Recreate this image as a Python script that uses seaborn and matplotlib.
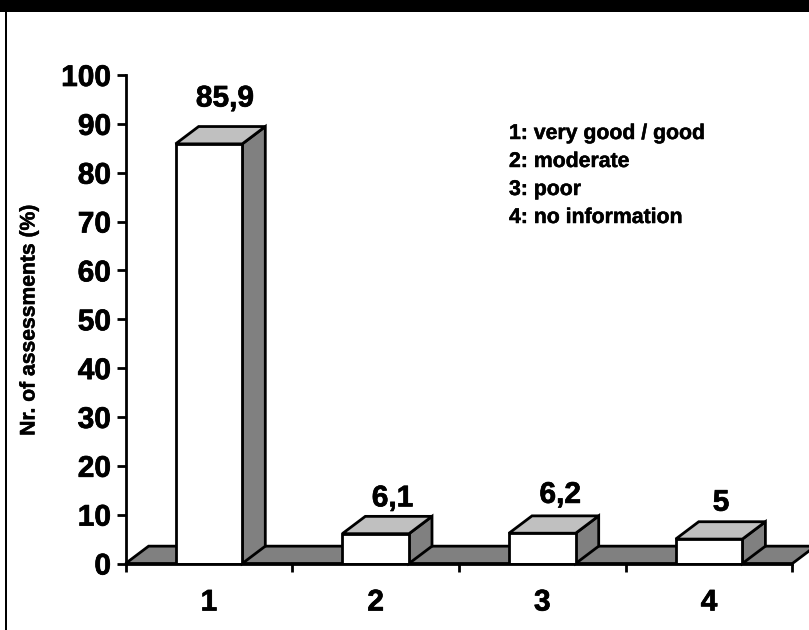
import matplotlib
matplotlib.use('Agg')
import matplotlib.pyplot as plt
import matplotlib.patheffects as pe
from matplotlib.patches import Polygon, Rectangle
import pandas as pd
import seaborn as sns

categories = ['1', '2', '3', '4']
values = [85.9, 6.1, 6.2, 5]
y_ticks = [0, 10, 20, 30, 40, 50, 60, 70, 80, 90, 100]
key_lines = ['1: very good / good', '2: moderate', '3: poor', '4: no information']

W, H = 809, 630
dpi = 100
bar_w = 0.4
dx, dy = 0.138, 3.55  # fake 3d depth in data units
lw = 2.0
dark = '#808080'
light = '#c0c0c0'
heavy = [pe.withStroke(linewidth=0.5, foreground='black')]
heavy_small = [pe.withStroke(linewidth=0.35, foreground='black')]

sns.set_theme(style='white')
plt.rcParams['font.family'] = ['Liberation Sans']
plt.rcParams['font.weight'] = 'bold'

fig = plt.figure(figsize=(W / dpi, H / dpi), dpi=dpi, facecolor='white')
ax = fig.add_axes([125.6 / W, 1 - 563.5 / H, 666.8 / W, 488.5 / H])

df = pd.DataFrame({'cat': categories, 'val': values})
sns.barplot(data=df, x='cat', y='val', ax=ax, color='white', saturation=1,
            width=bar_w, edgecolor='black', linewidth=lw, zorder=3)

ax.set_xlim(-0.5, len(categories) - 0.5)
ax.set_ylim(0, 100)

# floor
x0, x1 = ax.get_xlim()
ax.add_patch(Polygon([(x0, 0), (x1, 0), (x1 + dx, dy), (x0 + dx, dy)], closed=True,
                     facecolor=dark, edgecolor='black', lw=lw, zorder=1, clip_on=False))

# sides and tops of the bars
for i, v in enumerate(values):
    l, r = i - bar_w / 2, i + bar_w / 2
    ax.add_patch(Polygon([(r, 0), (r + dx, dy), (r + dx, v + dy), (r, v)], closed=True,
                         facecolor=dark, edgecolor='black', lw=lw, zorder=2, clip_on=False,
                         joinstyle='miter'))
    ax.add_patch(Polygon([(l, v), (r, v), (r + dx, v + dy), (l + dx, v + dy)], closed=True,
                         facecolor=light, edgecolor='black', lw=lw, zorder=2, clip_on=False,
                         joinstyle='miter'))

# value labels, nudged by hand like the original
label_nudge = [(16, 14), (17, 4), (18, 7), (12, 5)]
for i, v in enumerate(values):
    ax.annotate(str(v).replace('.', ','), (i, v + dy), xytext=label_nudge[i],
                textcoords='offset pixels', ha='center', va='bottom',
                fontsize=21.5, fontweight='bold', color='black', zorder=5, clip_on=False,
                path_effects=heavy)

sns.despine(ax=ax, top=True, right=True)
for s in ['left', 'bottom']:
    ax.spines[s].set_linewidth(lw)
    ax.spines[s].set_color('black')
    ax.spines[s].set_zorder(6)

ax.set_yticks(y_ticks)
ax.set_yticklabels([str(t) for t in y_ticks], fontsize=21.5, fontweight='bold', path_effects=heavy)
ax.tick_params(axis='y', left=True, length=6.5, width=lw, color='black', pad=4, labelcolor='black')

ax.set_xticks([i - 0.5 for i in range(len(categories) + 1)])
ax.set_xticklabels([])
ax.set_xticks(range(len(categories)), categories, minor=True, fontsize=21.5, fontweight='bold',
              path_effects=heavy)
ax.tick_params(axis='x', which='major', bottom=True, length=6, width=lw, color='black')
ax.tick_params(axis='x', which='minor', bottom=False, length=0, pad=18, labelcolor='black')

ax.set_xlabel('')
ax.set_ylabel('')
fig.text(29 / W, 1 - 320.5 / H, 'Nr. of assessments (%)', rotation=90, ha='center', va='center',
         fontsize=15.2, fontweight='bold', color='black', path_effects=heavy_small)

for line, ypx in zip(key_lines, [133.5, 161.5, 189.5, 217.5]):
    fig.text(509 / W, 1 - ypx / H, line, ha='left', va='center',
             fontsize=15.3, fontweight='bold', color='black', path_effects=heavy_small)

# black frame pieces of the page
fig.add_artist(Rectangle((0, 1 - 12 / H), 1, 12 / H, transform=fig.transFigure,
                         facecolor='black', edgecolor='none'))
fig.add_artist(Rectangle((5 / W, 0), 2.4 / W, 1, transform=fig.transFigure,
                         facecolor='black', edgecolor='none'))

fig.savefig('out.png', dpi=dpi, facecolor='white')
